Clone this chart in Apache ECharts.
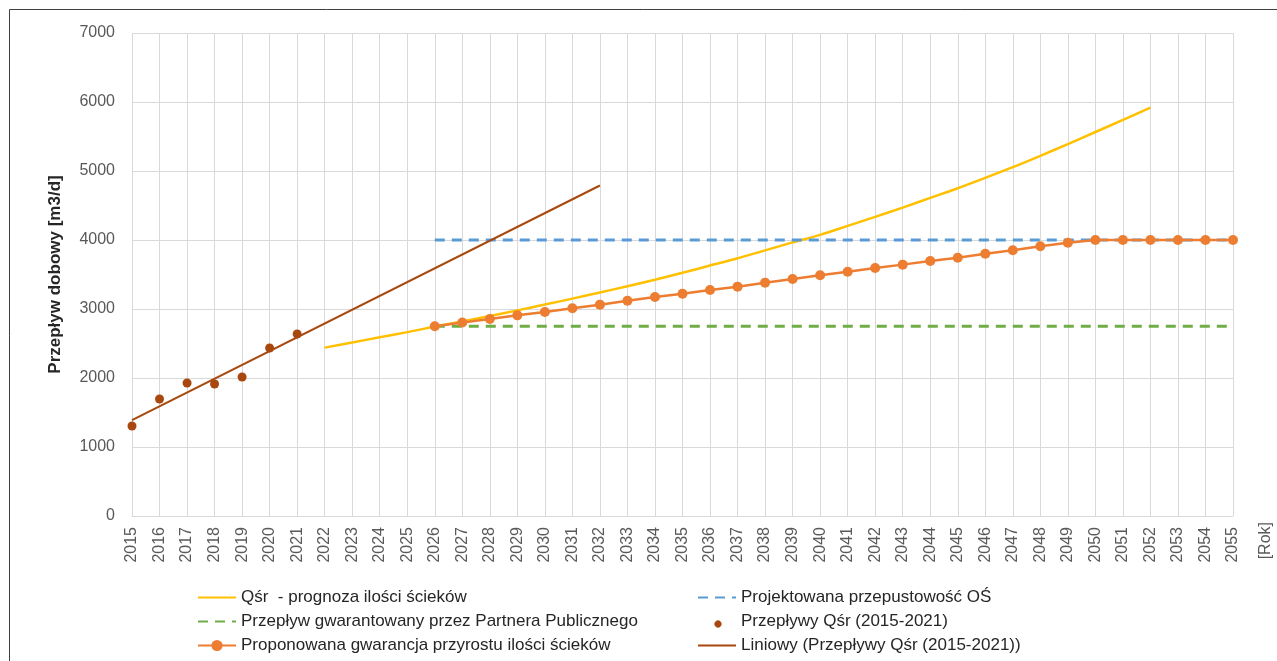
<!DOCTYPE html>
<html>
<head>
<meta charset="utf-8">
<script src="https://cdn.jsdelivr.net/npm/echarts@6/dist/echarts.min.js"></script>
<style>
html,body{margin:0;padding:0;background:#fff;}
#chart{width:1277px;height:661px;}
</style>
</head>
<body>
<div id="chart"></div>
<script>
// ---- data ----
const years = ['2015','2016','2017','2018','2019','2020','2021','2022','2023','2024','2025','2026','2027','2028','2029','2030','2031','2032','2033','2034','2035','2036','2037','2038','2039','2040','2041','2042','2043','2044','2045','2046','2047','2048','2049','2050','2051','2052','2053','2054','2055'];
const yTicks = [0,1000,2000,3000,4000,5000,6000,7000];

const forecastYears = ['2022','2023','2024','2025','2026','2027','2028','2029','2030','2031','2032','2033','2034','2035','2036','2037','2038','2039','2040','2041','2042','2043','2044','2045','2046','2047','2048','2049','2050','2051','2052'];
const forecastFlow = [2440,2515,2590,2665,2745,2820,2900,2980,3065,3150,3240,3330,3425,3525,3630,3735,3850,3965,4075,4205,4335,4470,4610,4750,4900,5055,5220,5390,5565,5740,5920];

const capacityYears = ['2026','2055'];
const capacityFlow = [4000,4000];

const guaranteedYears = ['2026','2055'];
const guaranteedFlow = [2750,2750];

const histYears = ['2015','2016','2017','2018','2019','2020','2021'];
const histFlow = [1304,1696,1928,1913,2014,2435,2638];

const proposedYears = ['2026','2027','2028','2029','2030','2031','2032','2033','2034','2035','2036','2037','2038','2039','2040','2041','2042','2043','2044','2045','2046','2047','2048','2049','2050','2051','2052','2053','2054','2055'];
const proposedFlow = [2750,2805,2855,2908,2957,3010,3063,3120,3174,3222,3275,3324,3382,3435,3488,3541,3594,3643,3696,3744,3802,3851,3909,3961,4000,4000,4000,4000,4000,4000];

const trendYears = ['2015','2032'];
const trendFlow = [1390,4790];

const names = {
  forecast: 'Qśr  - prognoza ilości ścieków',
  capacity: 'Projektowana przepustowość OŚ',
  guaranteed: 'Przepływ gwarantowany przez Partnera Publicznego',
  hist: 'Przepływy Qśr (2015-2021)',
  proposed: 'Proponowana gwarancja przyrostu ilości ścieków',
  trend: 'Liniowy (Przepływy Qśr (2015-2021))'
};

const pairs = (xs, vs) => xs.map((x, i) => [x, vs[i]]);

const FONT = 'Liberation Sans';
const chart = echarts.init(document.getElementById('chart'));
const legendText = {fontFamily: FONT, fontSize: 17, color: '#262626', lineHeight: 14};
const noSym = {opacity: 0};
const dotIcon = 'path://M0,0 M14,14 M10.5,7 A3.5,3.5 0 1 1 10.49,6.99 Z';

const legendBase = {
  orient: 'vertical',
  top: 589,
  padding: 0,
  itemWidth: 38, itemHeight: 14, itemGap: 7,
  textStyle: legendText
};

chart.setOption({
  animation: false,
  backgroundColor: '#fff',
  graphic: [{
    type: 'rect',
    shape: {x: 9.5, y: 9.5, width: 1400, height: 800},
    style: {fill: 'none', stroke: '#404040', lineWidth: 1},
    silent: true
  }],
  grid: {left: 132, right: 44, top: 33, bottom: 145, containLabel: false, outerBoundsMode: 'none'},
  legend: [Object.assign({}, legendBase, {
    left: 197,
    data: [
      {name: names.forecast, itemStyle: noSym},
      {name: names.guaranteed, itemStyle: noSym},
      {name: names.proposed}
    ]
  }), Object.assign({}, legendBase, {
    left: 697,
    data: [
      {name: names.capacity, itemStyle: noSym},
      {name: names.hist, icon: dotIcon},
      {name: names.trend, itemStyle: noSym}
    ]
  })],
  xAxis: {
    type: 'category',
    data: years,
    boundaryGap: false,
    axisLine: {show: true, lineStyle: {color: '#d9d9d9', width: 1}},
    axisTick: {show: false},
    axisLabel: {interval: 0, rotate: 90, margin: 11, fontFamily: FONT, fontSize: 16, color: '#595959'},
    splitLine: {show: true, interval: 0, lineStyle: {color: '#d9d9d9', width: 1}},
    name: '[Rok]',
    nameLocation: 'end',
    nameGap: 33,
    nameRotate: 90,
    nameTextStyle: {fontFamily: FONT, fontSize: 16, color: '#595959', align: 'right', verticalAlign: 'middle', padding: [0, 6, 0, 0]}
  },
  yAxis: {
    type: 'value',
    min: yTicks[0], max: yTicks[yTicks.length - 1], interval: 1000,
    axisLine: {show: false},
    axisTick: {show: false},
    axisLabel: {margin: 17, fontFamily: FONT, fontSize: 16, color: '#595959', formatter: v => String(v)},
    splitLine: {show: true, lineStyle: {color: '#d9d9d9', width: 1}},
    name: 'Przepływ dobowy [m3/d]',
    nameLocation: 'middle',
    nameGap: 68,
    nameTextStyle: {fontFamily: FONT, fontSize: 17, fontWeight: 'bold', color: '#262626'}
  },
  series: [{
    name: names.forecast,
    type: 'line',
    data: pairs(forecastYears, forecastFlow),
    smooth: 0.3,
    symbol: 'none',
    lineStyle: {color: '#FFC000', width: 2.5},
    itemStyle: {color: '#FFC000'},
    z: 2
  }, {
    name: names.capacity,
    type: 'line',
    data: pairs(capacityYears, capacityFlow),
    symbol: 'none',
    lineStyle: {color: '#5B9BD5', width: 3, type: [10, 7]},
    itemStyle: {color: '#5B9BD5'},
    z: 2
  }, {
    name: names.guaranteed,
    type: 'line',
    data: pairs(guaranteedYears, guaranteedFlow),
    symbol: 'none',
    lineStyle: {color: '#70AD47', width: 3, type: [10, 7]},
    itemStyle: {color: '#70AD47'},
    z: 2
  }, {
    name: names.hist,
    type: 'scatter',
    data: pairs(histYears, histFlow),
    symbol: 'circle',
    symbolSize: 9,
    itemStyle: {color: '#A9480E', opacity: 1},
    z: 3
  }, {
    name: names.proposed,
    type: 'line',
    data: pairs(proposedYears, proposedFlow),
    symbol: 'circle',
    symbolSize: 10,
    showAllSymbol: true,
    lineStyle: {color: '#ED7D31', width: 2.5},
    itemStyle: {color: '#ED7D31', borderWidth: 0},
    z: 4
  }, {
    name: names.trend,
    type: 'line',
    data: pairs(trendYears, trendFlow),
    symbol: 'none',
    lineStyle: {color: '#A9480E', width: 2},
    itemStyle: {color: '#A9480E'},
    z: 5
  }]
});
</script>
</body>
</html>
